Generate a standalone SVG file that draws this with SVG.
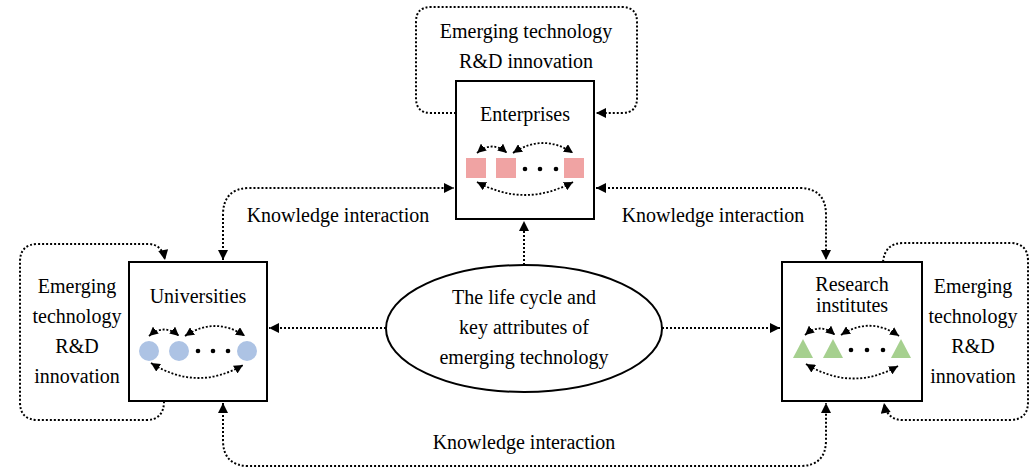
<svg xmlns="http://www.w3.org/2000/svg" width="1034" height="469" viewBox="0 0 1034 469">
<defs>
<style>
.box{fill:#fff;stroke:#000;stroke-width:2}
.dot{fill:none;stroke:#000;stroke-width:2;stroke-dasharray:2 2}
.sdot{fill:none;stroke:#000;stroke-width:1.8;stroke-dasharray:2 1.8}
.t{font-family:"Liberation Serif","Times New Roman",serif;font-size:20px;fill:#000;text-anchor:middle}
.sq{fill:#f0a3a3}
.ci{fill:#adc3e4}
.tr{fill:#a6d08f}
</style>
<marker id="ah" viewBox="0 0 10 10" refX="10" refY="5" markerWidth="11" markerHeight="10" markerUnits="userSpaceOnUse" orient="auto-start-reverse"><path d="M0,0 L10,5 L0,10 z" fill="#000"/></marker>
<marker id="sh" viewBox="0 0 10 10" refX="10" refY="5" markerWidth="9" markerHeight="9" markerUnits="userSpaceOnUse" orient="auto-start-reverse"><path d="M0,0 L10,5 L0,10 z" fill="#000"/></marker>
</defs>
<rect width="1034" height="469" fill="#fff"/>

<g id="connectors">
<path class="dot" d="M456,113 L431,113 Q416,113 416,98 L416,22 Q416,7 431,7 L622,7 Q637,7 637,22 L637,98 Q637,113 622,113 L596,113" marker-end="url(#ah)"/>
<path class="dot" d="M164,401 Q164,420 146,420 L38,420 Q20,420 20,402 L20,262 Q20,244 38,244 L148,244 Q162,244 165,260" marker-end="url(#ah)"/>
<path class="dot" d="M883,262 Q885,243 903,243 L1010,243 Q1028,243 1028,261 L1028,402 Q1028,420 1010,420 L903,420 Q887,420 884,403" marker-end="url(#ah)"/>
<path class="dot" d="M223,260 L223,215 Q223,188 250,188 L454,188" marker-start="url(#ah)" marker-end="url(#ah)"/>
<path class="dot" d="M596,188 L799,188 Q826,188 826,215 L826,260" marker-start="url(#ah)" marker-end="url(#ah)"/>
<path class="dot" d="M223,403 L223,440 Q223,466 249,466 L800,466 Q826,466 826,440 L826,403" marker-start="url(#ah)" marker-end="url(#ah)"/>
<path class="dot" d="M524,265 L524,221" marker-end="url(#ah)"/>
<path class="dot" d="M386,328 L269,328" marker-end="url(#ah)"/>
<path class="dot" d="M662,328 L780,328" marker-end="url(#ah)"/>
</g>

<g id="label-top">
<text class="t" x="526" y="38">Emerging technology</text>
<text class="t" x="526" y="68">R&amp;D innovation</text>
</g>
<g id="label-left">
<text class="t" x="77" y="293">Emerging</text>
<text class="t" x="77" y="323">technology</text>
<text class="t" x="77" y="353">R&amp;D</text>
<text class="t" x="77" y="383">innovation</text>
</g>
<g id="label-right">
<text class="t" x="973" y="293">Emerging</text>
<text class="t" x="973" y="323">technology</text>
<text class="t" x="973" y="353">R&amp;D</text>
<text class="t" x="973" y="383">innovation</text>
</g>
<g id="ki-labels">
<text class="t" x="338" y="222">Knowledge interaction</text>
<text class="t" x="713" y="222">Knowledge interaction</text>
<text class="t" x="524" y="449">Knowledge interaction</text>
</g>

<g id="enterprises">
<rect class="box" x="456" y="81" width="138" height="138"/>
<text class="t" x="525" y="121">Enterprises</text>
<rect class="sq" x="466" y="158" width="20" height="20"/>
<rect class="sq" x="496" y="158" width="20" height="20"/>
<rect class="sq" x="564" y="158" width="20" height="20"/>
<circle cx="525" cy="169" r="2.3"/><circle cx="540" cy="169" r="2.3"/><circle cx="556" cy="169" r="2.3"/>
<path class="sdot" d="M477,153 Q492,140 507,153" marker-start="url(#sh)" marker-end="url(#sh)"/>
<path class="sdot" d="M513,153 Q543,133 573,153" marker-start="url(#sh)" marker-end="url(#sh)"/>
<path class="sdot" d="M477,182 Q525,208 573,182" marker-start="url(#sh)" marker-end="url(#sh)"/>
</g>

<g id="universities">
<rect class="box" x="129" y="262" width="138" height="139"/>
<text class="t" x="198" y="303">Universities</text>
<circle class="ci" cx="149" cy="351" r="10"/>
<circle class="ci" cx="179" cy="351" r="10"/>
<circle class="ci" cx="247" cy="351" r="10"/>
<circle cx="198" cy="351" r="2.3"/><circle cx="213" cy="351" r="2.3"/><circle cx="228" cy="351" r="2.3"/>
<path class="sdot" d="M149,336 Q164,323 179,336" marker-start="url(#sh)" marker-end="url(#sh)"/>
<path class="sdot" d="M185,336 Q215,316 245,336" marker-start="url(#sh)" marker-end="url(#sh)"/>
<path class="sdot" d="M151,363 Q197,392 243,365" marker-start="url(#sh)" marker-end="url(#sh)"/>
</g>

<g id="research-institutes">
<rect class="box" x="782" y="262" width="140" height="139"/>
<text class="t" x="852" y="291">Research</text>
<text class="t" x="852" y="312">institutes</text>
<path class="tr" d="M793,358 L803,339 L813,358 z"/>
<path class="tr" d="M823,358 L833,339 L843,358 z"/>
<path class="tr" d="M891,358 L901,339 L911,358 z"/>
<circle cx="851" cy="350" r="2.3"/><circle cx="867" cy="350" r="2.3"/><circle cx="883" cy="350" r="2.3"/>
<path class="sdot" d="M805,335 Q820,322 835,335" marker-start="url(#sh)" marker-end="url(#sh)"/>
<path class="sdot" d="M841,335 Q870,316 899,336" marker-start="url(#sh)" marker-end="url(#sh)"/>
<path class="sdot" d="M806,364 Q852,392 898,366" marker-start="url(#sh)" marker-end="url(#sh)"/>
</g>

<g id="core">
<ellipse class="box" cx="524" cy="328.5" rx="138" ry="63.5"/>
<text class="t" x="524" y="304">The life cycle and</text>
<text class="t" x="524" y="334">key attributes of</text>
<text class="t" x="524" y="364">emerging technology</text>
</g>
</svg>
